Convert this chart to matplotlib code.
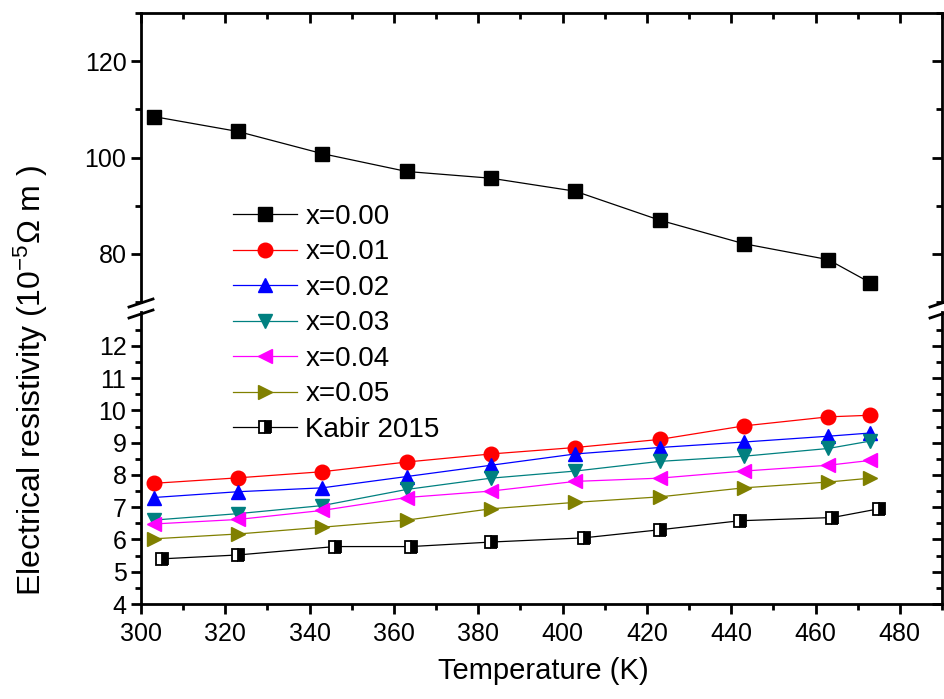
import matplotlib
matplotlib.use("Agg")
import matplotlib.pyplot as plt
from matplotlib.lines import Line2D
from matplotlib.ticker import MultipleLocator, FixedLocator, FuncFormatter

plt.rcParams['font.family'] = ['Liberation Sans', 'DejaVu Sans']
plt.rcParams['mathtext.fontset'] = 'custom'
plt.rcParams['mathtext.rm'] = 'Liberation Sans'
plt.rcParams['mathtext.default'] = 'regular'

# temperatures (K)
temp = [303, 323, 343, 363, 383, 403, 423, 443, 463, 473]
temp_kabir = [305, 323, 346, 364, 383, 405, 423, 442, 464, 475]

# resistivity (10^-5 ohm m)
rho_000 = [108.5, 105.4, 100.8, 97.1, 95.7, 93.0, 87.0, 82.1, 78.8, 74.0]
rho_001 = [7.74, 7.91, 8.10, 8.40, 8.65, 8.85, 9.10, 9.52, 9.80, 9.85]
rho_002 = [7.30, 7.48, 7.60, 7.95, 8.30, 8.65, 8.85, 9.02, 9.20, 9.30]
rho_003 = [6.60, 6.80, 7.05, 7.55, 7.90, 8.12, 8.42, 8.58, 8.82, 9.05]
rho_004 = [6.48, 6.62, 6.90, 7.30, 7.50, 7.80, 7.90, 8.12, 8.30, 8.45]
rho_005 = [6.02, 6.17, 6.38, 6.60, 6.95, 7.15, 7.32, 7.60, 7.78, 7.90]
rho_kabir = [5.40, 5.52, 5.78, 5.78, 5.92, 6.05, 6.30, 6.58, 6.68, 6.95]

labels = ["x=0.00", "x=0.01", "x=0.02", "x=0.03", "x=0.04", "x=0.05", "Kabir 2015"]
colors = ["black", "red", "blue", "#008080", "#ff00ff", "#808000", "black"]
markers = ["s", "o", "^", "v", "<", ">", "s"]

fig = plt.figure(figsize=(9.44, 6.99), dpi=100)
left, width = 141 / 944, 801 / 944
ax_top = fig.add_axes([left, (699 - 302) / 699, width, 289 / 699])
ax_bot = fig.add_axes([left, (699 - 604) / 699, width, 292 / 699])

ms = 10
lw = 0.9
handles = []
h, = ax_top.plot(temp, rho_000, color=colors[0], marker=markers[0], ms=ms, lw=lw,
                 mec=colors[0], label=labels[0])
handles.append(h)
for i, ys in enumerate([rho_001, rho_002, rho_003, rho_004, rho_005], start=1):
    h, = ax_bot.plot(temp, ys, color=colors[i], marker=markers[i], ms=ms + 0.5, lw=lw,
                     mec=colors[i], label=labels[i])
    handles.append(h)
h, = ax_bot.plot(temp_kabir, rho_kabir, color="black", marker="s", ms=8.5, lw=lw,
                 mfc="black", mfcalt="white", fillstyle="right", mec="black", mew=1.3,
                 label=labels[6])
handles.append(h)

ax_top.set_xlim(300, 490)
ax_bot.set_xlim(300, 490)
ax_top.set_ylim(70, 130)
ax_bot.set_ylim(4, 13.05)

for ax in (ax_top, ax_bot):
    for s in ax.spines.values():
        s.set_linewidth(2.0)
    ax.xaxis.set_major_locator(MultipleLocator(20))
    ax.xaxis.set_minor_locator(MultipleLocator(10))
    ax.tick_params(which="both", width=2.0, labelsize=18)
    ax.tick_params(which="major", length=7)
    ax.tick_params(which="minor", length=4)

ax_top.spines["bottom"].set_visible(False)
ax_bot.spines["top"].set_visible(False)

ax_top.yaxis.set_major_locator(FixedLocator([80, 100, 120]))
ax_top.yaxis.set_minor_locator(FixedLocator([70, 90, 110, 130]))
ax_bot.yaxis.set_major_locator(FixedLocator(list(range(4, 13))))
ax_bot.yaxis.set_minor_locator(FixedLocator([v + 0.5 for v in range(4, 13)]))

ax_top.tick_params(axis="x", which="both", bottom=False, top=True, labelbottom=False,
                   direction="in")
ax_bot.tick_params(axis="x", which="both", bottom=True, top=False, direction="out", pad=6)
ax_bot.xaxis.set_major_formatter(FuncFormatter(lambda v, p: "" if v > 485 else f"{v:.0f}"))
for ax in (ax_top, ax_bot):
    ax.tick_params(axis="y", which="both", left=True, right=False, direction="out")
    rax = ax.secondary_yaxis("right")
    rax.yaxis.set_major_locator(ax.yaxis.get_major_locator())
    rax.yaxis.set_minor_locator(ax.yaxis.get_minor_locator())
    rax.tick_params(which="both", direction="in", width=2.0, labelright=False)
    rax.tick_params(which="major", length=7)
    rax.tick_params(which="minor", length=4)
    rax.spines["right"].set_visible(False)

# break marks on both vertical spines
for xc in (141, 942):
    for yc in (303, 314):
        fig.add_artist(Line2D([(xc - 12) / 944, (xc + 12) / 944],
                              [1 - (yc + 4) / 699, 1 - (yc - 4) / 699],
                              color="black", lw=2.0, clip_on=False))

fig.legend(handles=handles, labels=labels, loc="upper left",
           bbox_to_anchor=(233 / 944, 1 - 204 / 699), frameon=False, fontsize=20,
           handlelength=2.3, handletextpad=0.3, labelspacing=0.34, borderpad=0,
           borderaxespad=0)

fig.text(543 / 944, 1 - 671 / 699, "Temperature (K)", ha="center", va="center", fontsize=21)
fig.text(31 / 944, 1 - 380 / 699, "Electrical resistivity (10$^{-5}$Ω m )",
         ha="center", va="center", rotation=90, fontsize=23)

fig.savefig("out.png", dpi=100)
